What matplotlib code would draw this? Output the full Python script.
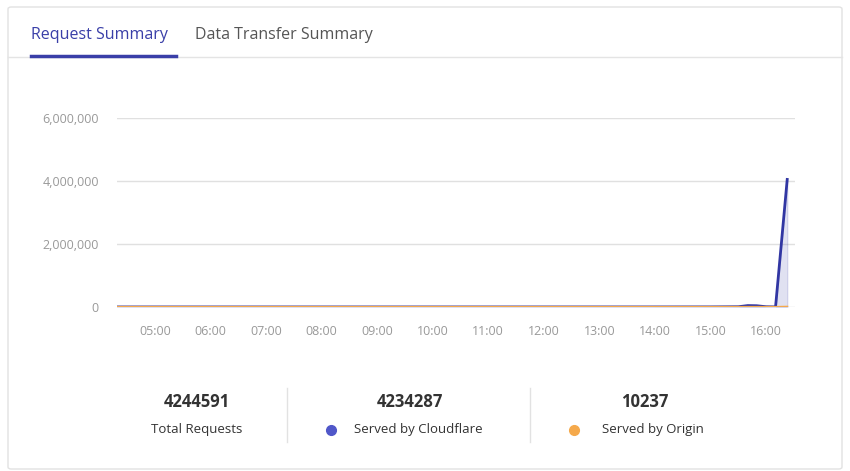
import matplotlib
matplotlib.use("Agg")
import matplotlib.pyplot as plt
from matplotlib.patches import FancyBboxPatch
from matplotlib.lines import Line2D

plt.rcParams['font.family'] = ['Open Sans', 'DejaVu Sans']

# data: hours (decimal) and requests
times = [4.32, 5, 6, 7, 8, 9, 10, 11, 12, 13, 14, 15, 15.5, 15.67, 15.83, 16.0, 16.17, 16.38]
cloudflare = [2000, 2000, 2000, 2000, 2000, 2000, 2000, 2000, 2000, 2000, 2000, 3000, 8000, 45000, 40000, 8000, 3000, 4050000]
origin = [1000, 1000, 1000, 1000, 1000, 1000, 1000, 1000, 1000, 1000, 1000, 1000, 1500, 3000, 3000, 1500, 1000, 8000]
xticks = [5, 6, 7, 8, 9, 10, 11, 12, 13, 14, 15, 16]
xticklabels = ["05:00", "06:00", "07:00", "08:00", "09:00", "10:00", "11:00", "12:00", "13:00", "14:00", "15:00", "16:00"]
yticks = [0, 2000000, 4000000, 6000000]
stats = [("4244591", "Total Requests", None),
         ("4234287", "Served by Cloudflare", "#5057c9"),
         ("10237", "Served by Origin", "#f5a94b")]

W, H = 850, 471
fig = plt.figure(figsize=(8.5, 4.71), dpi=100)
fig.patch.set_facecolor("white")

# card
card = FancyBboxPatch((8/W, 2/H), 834/W, 462/H, boxstyle="round,pad=0,rounding_size=0.004",
                      transform=fig.transFigure, fc="white", ec="#e2e2e2", lw=1, zorder=-5)
fig.patches.append(card)
fig.add_artist(Line2D([8/W, 842/W], [1-57/H, 1-57/H], color="#e4e4e4", lw=1))
fig.text(31/W, 1-35/H, "Request Summary", color="#3a3fa8", fontsize=11.5, va="center")
fig.add_artist(Line2D([31/W, 176/W], [1-55.5/H, 1-55.5/H], color="#3a3fa8", lw=2.5))
fig.text(195/W, 1-35/H, "Data Transfer Summary", color="#555", fontsize=11.5, va="center")

ax = fig.add_axes([117/W, 1-307/H, (795-117)/W, (307-118)/H])
ax.set_zorder(5)
ax.patch.set_alpha(0)
ax.plot(times, cloudflare, color="#3136a3", lw=2, zorder=3)
ax.fill_between(times, cloudflare, color="#3136a3", alpha=0.15, zorder=2)
ax.plot(times, origin, color="#f5a94b", lw=1.5, zorder=4)
ax.set_xlim(4.32, 16.52)
ax.set_ylim(0, 6000000)
ax.set_yticks(yticks)
ax.set_yticklabels([f"{v:,}" for v in yticks])
ax.set_xticks(xticks)
ax.set_xticklabels(xticklabels)
ax.grid(axis="y", color="#e0e0e0", lw=1)
ax.set_axisbelow(True)
for s in ax.spines.values():
    s.set_visible(False)
ax.tick_params(length=0, colors="#999", labelsize=9)
ax.tick_params(axis="y", pad=13)
ax.tick_params(axis="x", pad=13)

# stats
centers = [197, 410, 645]
for (num, lab, col), cx in zip(stats, centers):
    fig.text(cx/W, 1-402/H, num, ha="center", va="center", fontsize=12, fontweight="bold", color="#333")
    fig.text((cx + (8 if col else 0))/W, 1-430/H, lab, ha="center", va="center", fontsize=9.5, color="#333")
for cx, col in [(331, "#5057c9"), (574, "#f5a94b")]:
    fig.add_artist(Line2D([cx/W], [1-430/H], marker="o", ms=7, color=col, lw=0))
for x in [287, 530]:
    fig.add_artist(Line2D([x/W, x/W], [1-388/H, 1-442/H], color="#e2e2e2", lw=1))

fig.savefig("out.png", dpi=100)
